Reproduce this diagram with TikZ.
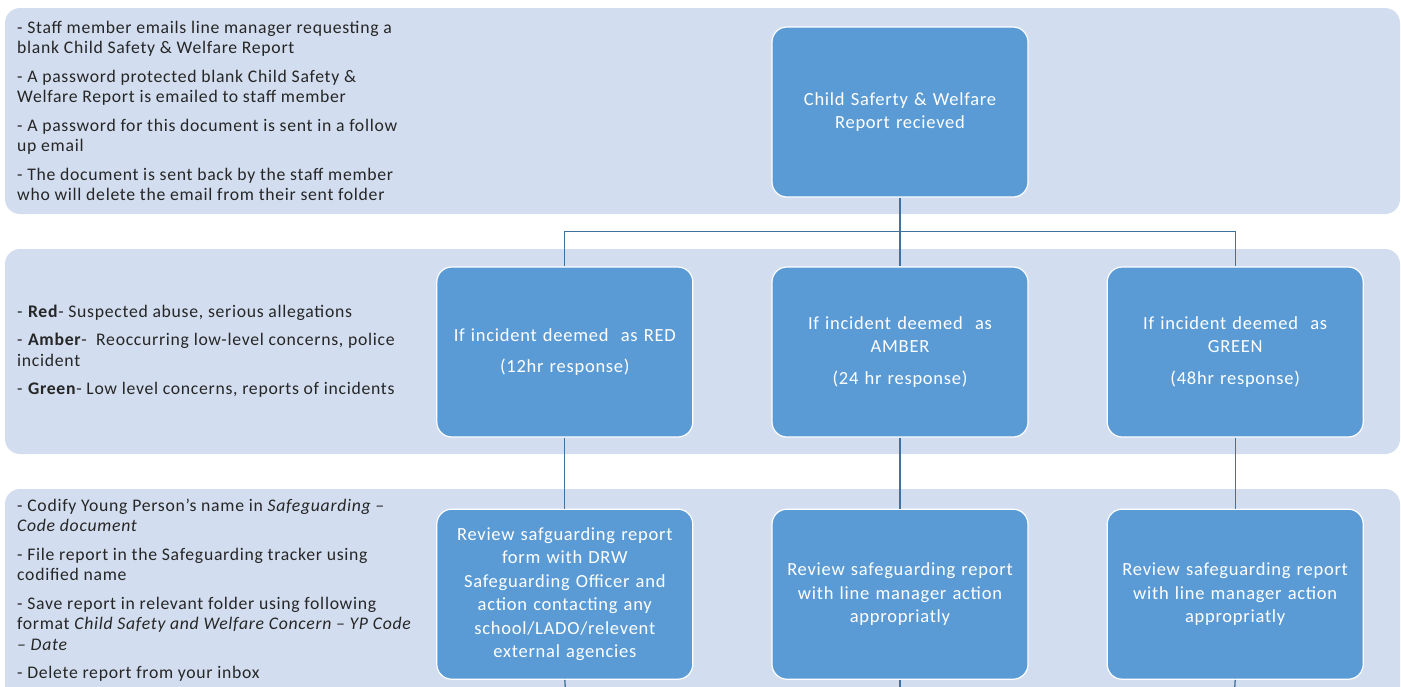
\documentclass[tikz,border=0pt]{standalone}
\usepackage{fontspec}
\setmainfont{Carlito}[LetterSpace=4]
\usetikzlibrary{positioning}

\definecolor{bandfill}{HTML}{D2DEEF}
\definecolor{boxfill}{HTML}{5B9BD5}
\definecolor{linkcol}{HTML}{41719C}
\definecolor{notetext}{HTML}{262626}

\begin{document}
\begin{tikzpicture}[x=1pt, y=-1pt, node distance=78pt,
  band/.style={fill=bandfill, rounded corners=15pt},
  stepbox/.style={draw=white, line width=1.2pt, fill=boxfill, rounded corners=15pt,
    minimum width=256pt, minimum height=170pt, text width=244pt, align=center,
    text=white, font=\fontsize{18.5}{23.5}\selectfont},
  note/.style={anchor=west, align=left, text=notetext, inner sep=0pt,
    font=\fontsize{17.7}{20.5}\selectfont},
  link/.style={draw=linkcol, line width=1.3pt}]
  \useasboundingbox (0,0) rectangle (1401,686);
  \clip (0,0) rectangle (1401,686);
  % Bands
  \fill[band] (5,8) rectangle (1400,214);
  \fill[band] (5,249) rectangle (1400,454);
  \fill[band] (5,489) rectangle (1400,720);

  % Notes
  \node[note] (n1) at (17,111) {- Staff member emails line manager requesting a\\
    blank Child Safety \& Welfare Report\\[8pt]
    - A password protected blank Child Safety \&\\
    Welfare Report is emailed to staff member\\[8pt]
    - A password for this document is sent in a follow\\
    up email\\[8pt]
    - The document is sent back by the staff member\\
    who will delete the email from their sent folder};
  \node[note] (n2) at (17,351) {- \textbf{Red}- Suspected abuse, serious allegations\\[8pt]
    - \textbf{Amber}-~ Reoccurring low-level concerns, police\\
    incident\\[8pt]
    - \textbf{Green}- Low level concerns, reports of incidents};
  \node[note] (n3) at (17,590) {- Codify Young Person’s name in \textit{Safeguarding –}\\
    \textit{Code document}\\[8pt]
    - File report in the Safeguarding tracker using\\
    codified name\\[8pt]
    - Save report in relevant folder using following\\
    format \textit{Child Safety and Welfare Concern – YP Code}\\
    \textit{– Date}\\[8pt]
    - Delete report from your inbox};

  % Boxes
  \node[stepbox] (report) at (900,112) {Child Saferty \& Welfare\\Report recieved};
  \node[stepbox] (amber) at (900,352) {If incident deemed~ as\\AMBER\\[8pt](24 hr response)};
  \node[stepbox, left=of amber] (red) {If incident deemed~ as RED\\[8pt](12hr response)};
  \node[stepbox, right=of amber] (green) {If incident deemed~ as\\GREEN\\[8pt](48hr response)};
  \node[stepbox, below=71pt of red] (redact) {Review safguarding report\\form with DRW\\
    Safeguarding Officer and\\action contacting any\\school/LADO/relevent\\external agencies};
  \node[stepbox, below=71pt of amber] (amberact) {Review safeguarding report\\with line manager action\\appropriatly};
  \node[stepbox, below=71pt of green] (greenact) {Review safeguarding report\\with line manager action\\appropriatly};

  % Links
  \draw[link] (report) -- (amber);
  \draw[link] (red.north) -- ++(0,-35) -| (green.north);
  \draw[link] (red) -- (redact);
  \draw[link] (amber) -- (amberact);
  \draw[link] (green) -- (greenact);
  \coordinate (redend) at (566,700);
  \coordinate (amberend) at (900,700);
  \coordinate (greenend) at (1234,700);
  \draw[link] (redact.south) -- (redend);
  \draw[link] (amberact.south) -- (amberend);
  \draw[link] (greenact.south) -- (greenend);
\end{tikzpicture}
\end{document}
